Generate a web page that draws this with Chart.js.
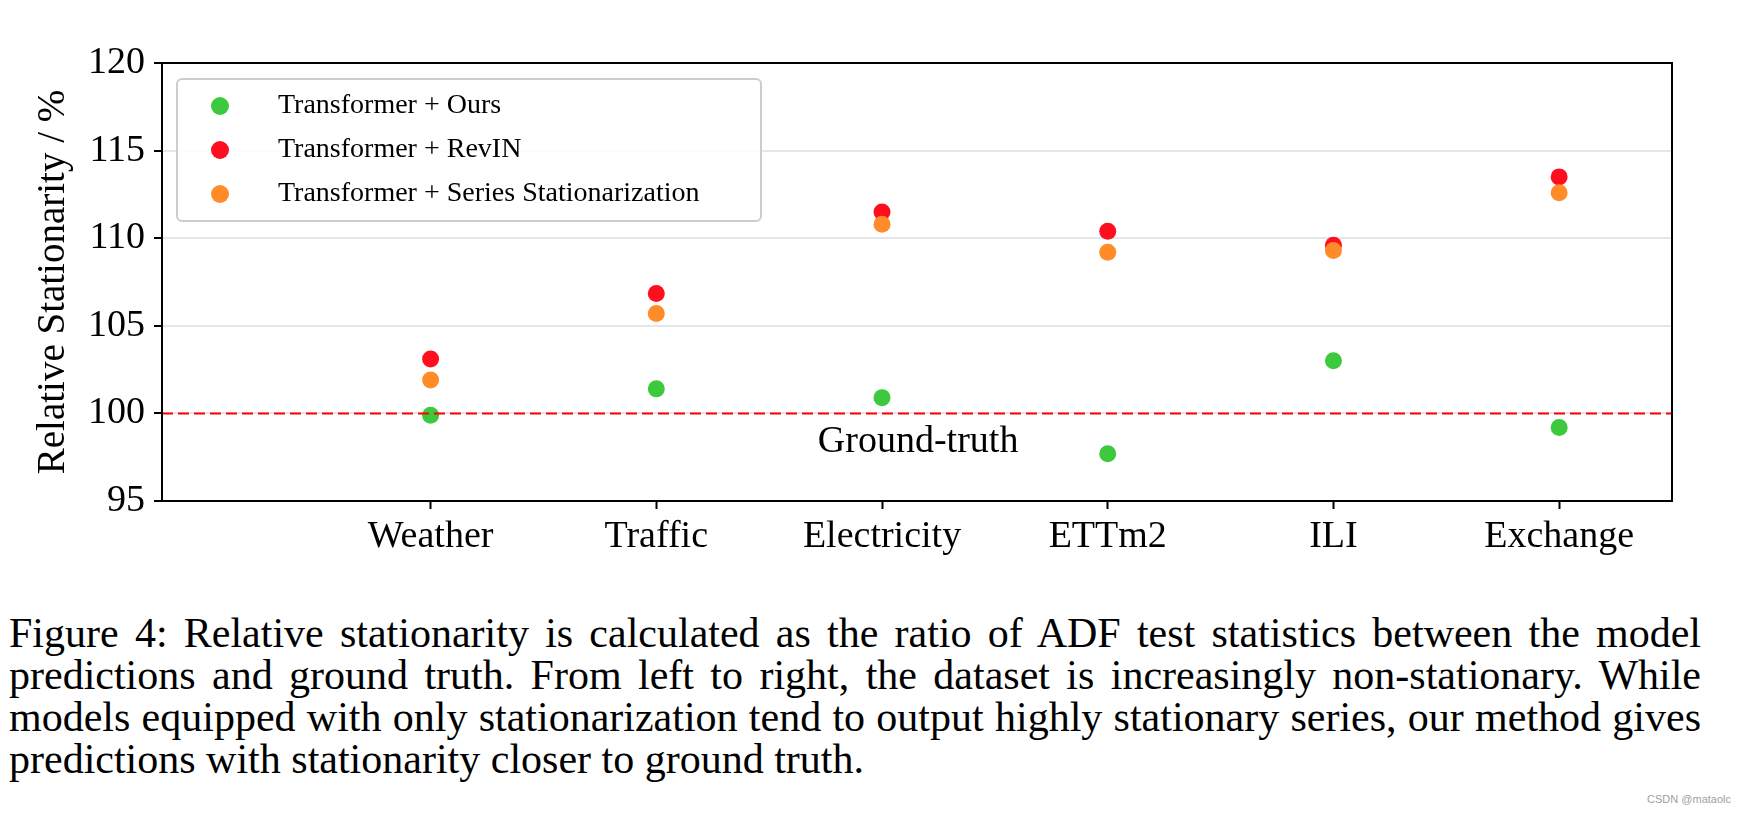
<!DOCTYPE html>
<html>
<head>
<meta charset="utf-8">
<script src="https://cdn.jsdelivr.net/npm/chart.js@4.4.1/dist/chart.umd.min.js"></script>
<style>
  body { margin: 0; background: #fff; width: 1742px; height: 814px; overflow: hidden; position: relative; }
  #wrap { position: absolute; left: 0; top: 0; width: 1742px; height: 600px; }
  #caption {
    position: absolute; left: 9px; top: 612px; width: 1692px;
    font-family: "Liberation Serif", "Times New Roman", serif; font-size: 42px; line-height: 42px;
    text-align: justify; color: #000;
  }
  #mark {
    position: absolute; right: 11px; top: 793px;
    font-family: "Liberation Sans", Arial, sans-serif; font-size: 11px; color: #a0a0a0;
  }
</style>
</head>
<body>
<div id="wrap"><canvas id="chart"></canvas></div>
<div id="caption">Figure 4: Relative stationarity is calculated as the ratio of ADF test statistics between the model predictions and ground truth. From left to right, the dataset is increasingly non-stationary. While models equipped with only stationarization tend to output highly stationary series, our method gives predictions with stationarity closer to ground truth.</div>
<div id="mark">CSDN @mataolc</div>
<script>
// datasets, left to right = increasingly non-stationary
const categories = ['Weather', 'Traffic', 'Electricity', 'ETTm2', 'ILI', 'Exchange'];
const oursValues = [99.9, 101.4, 100.9, 97.7, 103.0, 99.2];
const revinValues = [103.1, 106.85, 111.5, 110.4, 109.6, 113.5];
const stationValues = [101.9, 105.7, 110.8, 109.2, 109.3, 112.6];
const yTicks = [95, 100, 105, 110, 115, 120];
const groundTruth = 100;
const gtLabelPos = { x: 2.16, y: 98.38 };

const serif = '"Liberation Serif", "Times New Roman", serif';

function toPoints(values) {
    return values.map((v, i) => ({ x: i, y: v }));
}

// dashed ground-truth line + its label
const groundTruthPlugin = {
    id: 'groundTruth',
    afterDatasetsDraw(chart) {
        const { ctx, chartArea, scales } = chart;
        const y = scales.y.getPixelForValue(groundTruth);
        ctx.save();
        ctx.strokeStyle = '#ff0000';
        ctx.lineWidth = 2;
        ctx.setLineDash([11, 5]);
        ctx.beginPath();
        ctx.moveTo(chartArea.left, y);
        ctx.lineTo(chartArea.right, y);
        ctx.stroke();
        ctx.setLineDash([]);
        ctx.fillStyle = '#000';
        ctx.font = '38px ' + serif;
        ctx.textAlign = 'center';
        ctx.textBaseline = 'middle';
        ctx.fillText('Ground-truth', scales.x.getPixelForValue(gtLabelPos.x), scales.y.getPixelForValue(gtLabelPos.y));
        ctx.restore();
    }
};

// black frame around the plot
const framePlugin = {
    id: 'frame',
    afterDraw(chart) {
        const { ctx, chartArea } = chart;
        ctx.save();
        ctx.strokeStyle = '#000';
        ctx.lineWidth = 2;
        ctx.strokeRect(chartArea.left, chartArea.top, chartArea.right - chartArea.left, chartArea.bottom - chartArea.top);
        ctx.restore();
    }
};

// legend box in the upper left, matplotlib style
const legendBoxPlugin = {
    id: 'legendBox',
    afterDraw(chart) {
        const { ctx } = chart;
        const x0 = 177, y0 = 79, w = 584, h = 142;
        ctx.save();
        ctx.fillStyle = 'rgba(255,255,255,0.85)';
        ctx.strokeStyle = '#cccccc';
        ctx.lineWidth = 2;
        ctx.beginPath();
        ctx.roundRect(x0, y0, w, h, 5);
        ctx.fill();
        ctx.stroke();
        ctx.font = '28px ' + serif;
        ctx.textBaseline = 'middle';
        chart.data.datasets.forEach((ds, i) => {
            const cy = y0 + 27 + i * 44;
            ctx.fillStyle = ds.backgroundColor;
            ctx.beginPath();
            ctx.arc(x0 + 43, cy, 9, 0, Math.PI * 2);
            ctx.fill();
            ctx.fillStyle = '#000';
            ctx.fillText(ds.label, x0 + 101, cy);
        });
        ctx.restore();
    }
};

const ctx = document.getElementById('chart').getContext('2d');
const chart = new Chart(ctx, {
    type: 'scatter',
    data: {
        datasets: [
            { label: 'Transformer + Ours', data: toPoints(oursValues), backgroundColor: '#3dc93d', order: 3 },
            { label: 'Transformer + RevIN', data: toPoints(revinValues), backgroundColor: '#ff0e1f', order: 2 },
            { label: 'Transformer + Series Stationarization', data: toPoints(stationValues), backgroundColor: '#ff8c28', order: 1 }
        ]
    },
    options: {
        responsive: true,
        maintainAspectRatio: false,
        animation: false,
        layout: { padding: { top: 63, right: 70, bottom: 0, left: 0 } },
        elements: { point: { radius: 8.5, borderWidth: 0, hoverRadius: 8.5 } },
        plugins: {
            legend: { display: false },
            tooltip: { enabled: false }
        },
        scales: {
            x: {
                type: 'linear',
                min: -1.19,
                max: 5.5,
                afterBuildTicks: scale => { scale.ticks = categories.map((c, i) => ({ value: i })); },
                afterFit: scale => { scale.height = 99; },
                ticks: {
                    callback: v => categories[v],
                    font: { family: serif, size: 38 },
                    color: '#000',
                    padding: 5.5,
                    maxRotation: 0
                },
                grid: { drawOnChartArea: false, tickLength: 8, tickColor: '#000', tickWidth: 2 },
                border: { display: false }
            },
            y: {
                min: 95,
                max: 120,
                afterBuildTicks: scale => { scale.ticks = yTicks.map(v => ({ value: v })); },
                afterFit: scale => { scale.width = 162; },
                ticks: {
                    font: { family: serif, size: 38 },
                    color: '#000',
                    padding: 9
                },
                grid: { color: '#e6e6e6', lineWidth: 2, tickLength: 8, tickColor: '#000', tickWidth: 2 },
                border: { display: false },
                title: {
                    display: true,
                    text: 'Relative Stationarity / %',
                    font: { family: serif, size: 39 },
                    color: '#000',
                    padding: { top: 30, bottom: 0 }
                }
            }
        }
    },
    plugins: [groundTruthPlugin, framePlugin, legendBoxPlugin]
});
</script>
</body>
</html>
